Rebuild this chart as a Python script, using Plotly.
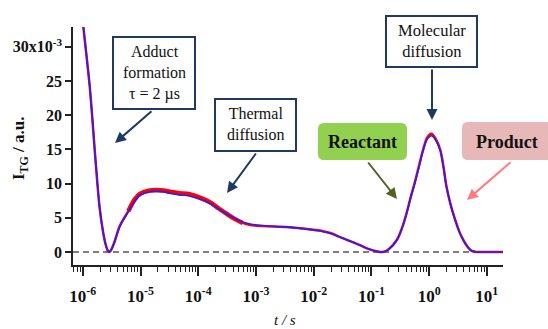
import plotly.graph_objects as go

# ---- data ----
log_t = [-6.03, -5.94, -5.88, -5.83, -5.79, -5.75, -5.71, -5.66, -5.61, -5.57, -5.545,
         -5.51, -5.45, -5.36, -5.21, -5.10, -5.01, -4.84, -4.60, -4.49, -4.32, -4.15,
         -3.98, -3.80, -3.65, -3.51, -3.37, -3.23, -3.10, -2.99, -2.80, -2.59, -2.38,
         -2.18, -2.00, -1.84, -1.70, -1.55, -1.37, -1.20, -1.05, -0.91, -0.80, -0.70,
         -0.56, -0.47, -0.39, -0.32, -0.25, -0.17, -0.10, -0.03, 0.04, 0.11, 0.19,
         0.25, 0.30, 0.37, 0.45, 0.52, 0.59, 0.66, 0.74, 0.85, 1.00, 1.28]

# fit (blue), in units of 1e-3 a.u.
i_fit = [36.0, 29.0, 24.2, 19.0, 14.5, 10.3, 6.6, 3.5, 1.3, 0.25, 0.0,
         0.3, 1.5, 3.7, 5.9, 7.4, 8.3, 8.8, 8.8, 8.6, 8.35, 8.2,
         7.75, 7.1, 6.3, 5.6, 4.95, 4.4, 4.1, 3.95, 3.8, 3.7, 3.6,
         3.4, 3.2, 3.0, 2.7, 2.2, 1.6, 1.0, 0.45, 0.1, 0.0, 0.4,
         1.75, 3.5, 5.65, 7.9, 10.0, 12.6, 14.9, 16.5, 17.0, 16.4, 14.9,
         12.3, 9.55, 7.0, 4.7, 3.0, 1.75, 0.8, 0.15, 0.0, 0.0, 0.0]

# measured data (red), in units of 1e-3 a.u.
i_data = [36.0, 29.0, 24.2, 19.0, 14.5, 10.3, 6.6, 3.5, 1.3, 0.25, 0.0,
          0.3, 1.5, 3.8, 6.0, 7.7, 8.5, 9.0, 9.0, 8.8, 8.6, 8.45,
          8.0, 7.3, 6.4, 5.6, 4.85, 4.25, 3.95, 3.85, 3.75, 3.7, 3.6,
          3.45, 3.25, 3.05, 2.75, 2.2, 1.6, 1.0, 0.45, 0.1, 0.0, 0.4,
          1.75, 3.5, 5.7, 8.0, 10.1, 12.8, 15.1, 16.8, 17.3, 16.6, 15.0,
          12.4, 9.6, 7.0, 4.75, 3.05, 1.8, 0.85, 0.15, 0.0, 0.0, 0.0]

noisy = slice(14, 28)   # points where the measured trace is visibly noisy

x_ticks = [1e-6, 1e-5, 1e-4, 1e-3, 1e-2, 1e-1, 1e0, 1e1]
x_ticktext = ["<b>10<sup>-6</sup></b>", "<b>10<sup>-5</sup></b>", "<b>10<sup>-4</sup></b>",
              "<b>10<sup>-3</sup></b>", "<b>10<sup>-2</sup></b>", "<b>10<sup>-1</sup></b>",
              "<b>10<sup>0</sup></b>", "<b>10<sup>1</sup></b>"]
y_ticks = [0, 5, 10, 15, 20, 25, 30]
y_ticktext = ["<b>0</b>", "<b>5</b>", "<b>10</b>", "<b>15</b>", "<b>20</b>", "<b>25</b>",
              "<b>30x10<sup>-3</sup></b>"]

t = [10 ** v for v in log_t]

# ---- layout helpers (pixel -> paper) ----
W, H = 548, 329
L, R, T, B = 73, 503, 27, 265
def X(px):
    return (px - L) / (R - L)
def Y(py):
    return (B - py) / (B - T)

SERIF = "Liberation Serif"

fig = go.Figure()
fig.add_trace(go.Scatter(x=t, y=i_data, mode="lines", line=dict(color="#ff0000", width=2.5, shape="spline"),
                         hoverinfo="skip", showlegend=False))
fig.add_trace(go.Scatter(x=t[noisy], y=i_data[noisy], mode="lines",
                         line=dict(color="#ff0000", width=4.5, shape="spline"),
                         hoverinfo="skip", showlegend=False))
fig.add_trace(go.Scatter(x=t, y=i_fit, mode="lines", line=dict(color="#2020ff", width=1.6, shape="spline"),
                         hoverinfo="skip", showlegend=False))

minor_vals = []
for e in range(-7, 2):
    for m in range(2, 10):
        minor_vals.append(m * 10 ** e)

fig.update_xaxes(type="log", range=[-6.17, 1.28], tickvals=x_ticks, ticktext=x_ticktext,
                 showgrid=False, zeroline=False, showline=True, linecolor="#222", linewidth=1.5,
                 ticks="outside", ticklen=9, tickwidth=1.5, tickcolor="#222",
                 ticklabelstandoff=6,
                 tickfont=dict(family=SERIF, size=17, color="#111"),
                 minor=dict(tickvals=minor_vals, ticks="outside", ticklen=5, tickwidth=1.2, tickcolor="#222",
                            showgrid=False))
fig.update_yaxes(range=[-1.9, 32.9], tickvals=y_ticks, ticktext=y_ticktext,
                 showgrid=False, zeroline=False, showline=True, linecolor="#222", linewidth=1.5,
                 ticks="outside", ticklen=6, tickwidth=1.5, tickcolor="#222",
                 tickfont=dict(family=SERIF, size=16, color="#111"))

shapes = []
# dashed zero line
shapes.append(dict(type="line", xref="paper", yref="y", x0=0, x1=1, y0=0, y1=0,
                   line=dict(color="#555", width=1.5, dash="6px,4px"), layer="below"))

def rect(x0, y0, x1, y1, color):
    return dict(type="rect", xref="paper", yref="paper", x0=X(x0), x1=X(x1), y0=Y(y1), y1=Y(y0),
                line=dict(color=color, width=2), fillcolor="white")

def rrect(x0, y0, x1, y1, fill, r=6):
    rx, ry = r / (R - L), r / (B - T)
    a0, a1, b0, b1 = X(x0), X(x1), Y(y1), Y(y0)
    p = (f"M {a0+rx},{b0} L {a1-rx},{b0} Q {a1},{b0} {a1},{b0+ry} L {a1},{b1-ry} "
         f"Q {a1},{b1} {a1-rx},{b1} L {a0+rx},{b1} Q {a0},{b1} {a0},{b1-ry} "
         f"L {a0},{b0+ry} Q {a0},{b0} {a0+rx},{b0} Z")
    return dict(type="path", xref="paper", yref="paper", path=p, fillcolor=fill, line=dict(width=0))

NAVY = "#1f3864"
shapes.append(rect(113, 37, 195, 109, NAVY))
shapes.append(rect(215, 99, 296, 151, NAVY))
shapes.append(rect(386, 16, 477, 67, NAVY))
shapes.append(rrect(318, 123, 407, 160, "#92d050"))
shapes.append(rrect(462, 122, 570, 160, "#e6b9b8"))

ann = []
def txt(px, py, s, size=16, bold=False):
    ann.append(dict(xref="paper", yref="paper", x=X(px), y=Y(py), text=(f"<b>{s}</b>" if bold else s),
                    showarrow=False, xanchor="center", yanchor="middle",
                    font=dict(family=SERIF, size=size, color="#111")))

def arrow(x0, y0, x1, y1, color):
    ann.append(dict(xref="paper", yref="paper", x=X(x1), y=Y(y1), ax=x0 - x1, ay=y0 - y1,
                    axref="pixel", ayref="pixel", text="", showarrow=True,
                    arrowhead=2, arrowsize=1.1, arrowwidth=2, arrowcolor=color, standoff=0))

txt(154, 73, "Adduct<br>formation<br>τ = 2 µs", size=16)
txt(255.5, 124, "Thermal<br>diffusion", size=16)
txt(431.5, 41, "Molecular<br>diffusion", size=16.5)
txt(362.5, 142, "Reactant", size=18, bold=True)
txt(506.5, 142, "Product", size=18, bold=True)

arrow(153, 110, 115, 143, NAVY)
arrow(257, 152, 227, 193, NAVY)
arrow(432, 68, 432, 120, NAVY)
arrow(367, 161, 397, 199, "#4f6228")
arrow(512, 161, 467, 200, "#ff7c80")

# axis titles
ann.append(dict(xref="paper", yref="paper", x=X(20), y=Y(148), text="<b>I<sub>TG</sub> / a.u.</b>",
                showarrow=False, textangle=-90, xanchor="center", yanchor="middle",
                font=dict(family=SERIF, size=17, color="#111")))
ann.append(dict(xref="paper", yref="paper", x=X(285), y=Y(320), text="<i>t / s</i>",
                showarrow=False, xanchor="center", yanchor="middle",
                font=dict(family=SERIF, size=15, color="#111")))

fig.update_layout(width=W, height=H, margin=dict(l=L, r=W - R, t=T, b=H - B),
                  paper_bgcolor="white", plot_bgcolor="white",
                  shapes=shapes, annotations=ann, showlegend=False)

fig.write_html("out.html", config={"displayModeBar": False},
               post_script="document.body.style.margin='0';document.body.style.overflow='hidden';")
